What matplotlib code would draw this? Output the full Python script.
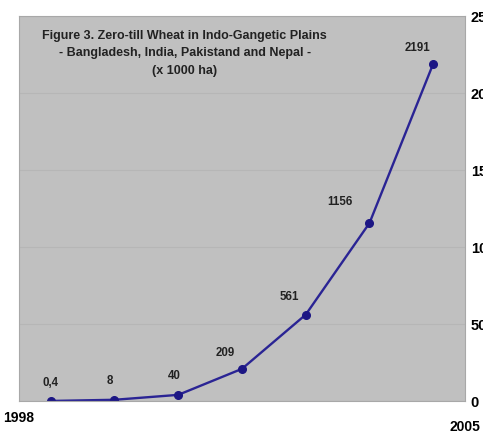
import matplotlib.pyplot as plt
import numpy as np

# zero-till wheat area, x 1000 ha
values = [0.4, 8, 40, 209, 561, 1156, 2191]
value_labels = ["0,4", "8", "40", "209", "561", "1156", "2191"]
edge_years = ["1998", "2005"]
y_ticks = [0, 500, 1000, 1500, 2000, 2500]

title = ("Figure 3. Zero-till Wheat in Indo-Gangetic Plains\n"
         "- Bangladesh, India, Pakistand and Nepal -\n"
         "(x 1000 ha)")

# label placement (points) relative to each marker
lab_dx = [0, -3, -3, -12, -11.5, -21, -11]
lab_dy = [13, 13.5, 13.5, 11.5, 13, 15, 11.5]

fam = ["Liberation Sans", "DejaVu Sans"]

fig = plt.figure(figsize=(4.83, 4.34), dpi=100)
ax = fig.add_axes([0.039, 0.076, 0.924, 0.887])
ax.set_facecolor("#c0c0c0")

x = np.arange(len(values))
ax.plot(x, values, color="#2a2494", lw=1.7, marker="o", ms=5.5,
        mfc="#1c1684", mec="#1c1684")

for xi, v, lab, dx, dy in zip(x, values, value_labels, lab_dx, lab_dy):
    ax.annotate(lab, (xi, v), xytext=(dx, dy), textcoords="offset points",
                ha="center", va="center", fontsize=8.3, fontweight="bold",
                family=fam, color="#222222")

ax.set_xlim(-0.5, len(values) - 0.5)
ax.set_ylim(0, 2500)
ax.set_xticks([])

# year labels at the two ends of the category axis
ax.annotate(edge_years[0], (-0.5, 0), xycoords=("data", "axes fraction"),
            xytext=(0, -12), textcoords="offset points", ha="center",
            va="center", fontsize=10, fontweight="bold", family=fam,
            annotation_clip=False)
ax.annotate(edge_years[1], (len(values) - 0.5, 0),
            xycoords=("data", "axes fraction"), xytext=(0, -19),
            textcoords="offset points", ha="center", va="center",
            fontsize=10, fontweight="bold", family=fam,
            annotation_clip=False)

ax.yaxis.tick_right()
ax.set_yticks(y_ticks)
ax.set_yticklabels([str(t) for t in y_ticks], fontsize=10.5,
                   fontweight="bold", family=fam)
ax.tick_params(axis="y", length=0, pad=4)
ax.grid(axis="y", color="#b6b6b6", lw=0.8)
ax.set_axisbelow(True)

for s in ax.spines.values():
    s.set_color("#a8a8a8")
    s.set_linewidth(0.8)

ax.text(0.372, 0.965, title, transform=ax.transAxes, ha="center", va="top",
        fontsize=9, fontweight="bold", family=fam, color="#222222",
        linespacing=1.65)

fig.savefig("out.png", dpi=100)
